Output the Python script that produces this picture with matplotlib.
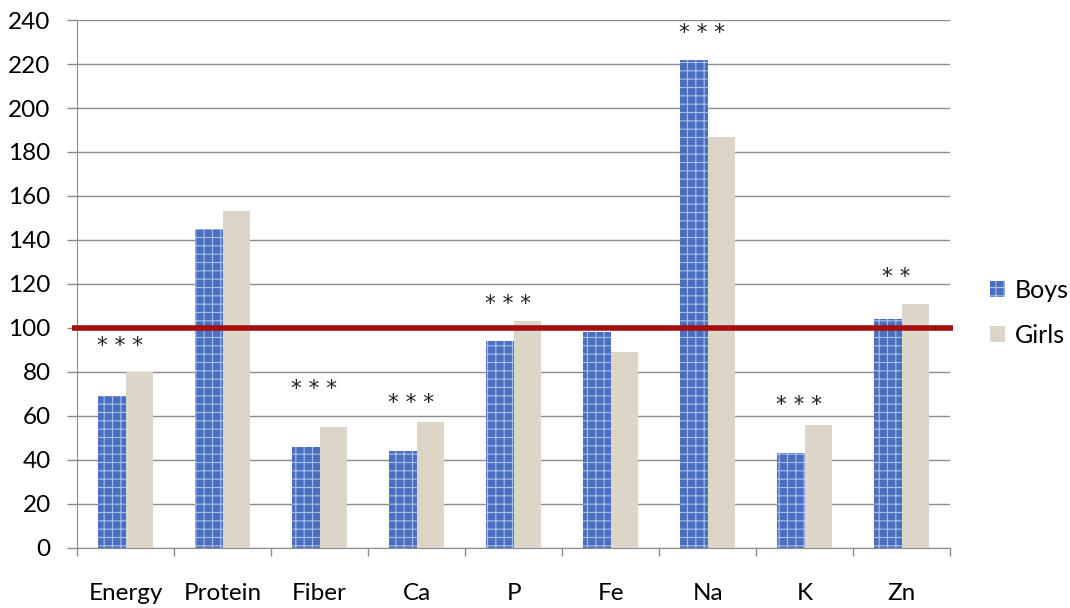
import numpy as np
import matplotlib.pyplot as plt

plt.rcParams['font.family'] = ['Lato', 'DejaVu Sans']
plt.rcParams['hatch.linewidth'] = 0.8

nutrients = ['Energy', 'Protein', 'Fiber', 'Ca', 'P', 'Fe', 'Na', 'K', 'Zn']
boys = [69, 145, 46, 44, 94, 98, 222, 43, 104]
girls = [80, 153, 55, 57, 103, 89, 187, 56, 111]
stars = ['* * *', '', '* * *', '* * *', '* * *', '', '* * *', '* * *', '* *']
star_y = [92, 0, 72, 66, 111, 0, 234, 65, 123]

fig = plt.figure(figsize=(10.70, 6.08), dpi=100)
ax = fig.add_axes([0.072, 0.099, 0.816, 0.868])

x = np.arange(len(nutrients))
w = 0.285
ax.bar(x - w/2, boys, w, color='#4a6fbe', edgecolor='#a9c0ec', hatch='++',
       linewidth=0, label='Boys', zorder=3)
ax.bar(x + w/2, girls, w, color='#ddd6c8', linewidth=0, label='Girls', zorder=3)

for i in range(len(nutrients)):
    if stars[i]:
        ax.text(x[i] - 0.06, star_y[i], stars[i], ha='center', va='center',
                fontsize=15.5, color='#222222', family='DejaVu Sans', zorder=4)

# reference line at 100%
ax.plot([-0.55, 8.53], [100, 100], color='#a50f0f', lw=4, zorder=5,
        clip_on=False, solid_capstyle='butt')

ax.set_xlim(-0.5, 8.5)
ax.set_ylim(0, 240)
ax.set_yticks(np.arange(0, 241, 20))
ax.yaxis.grid(True, color='#8c8c8c', lw=1, zorder=0)

ax.set_xticks(np.arange(-0.5, 9, 1), minor=False)
ax.set_xticklabels([])
ax.set_xticks(x, minor=True)
ax.set_xticklabels(nutrients, minor=True, fontsize=17.5)
ax.tick_params(axis='x', which='major', length=6, color='#8c8c8c', width=1)
ax.tick_params(axis='x', which='minor', length=0, pad=25)
ax.tick_params(axis='y', length=7, color='#8c8c8c', width=1, labelsize=17.5, pad=12)

for s in ['top', 'right']:
    ax.spines[s].set_visible(False)
for s in ['left', 'bottom']:
    ax.spines[s].set_color('#8c8c8c')

ax.legend(loc='center left', bbox_to_anchor=(1.02, 0.445), frameon=False,
          fontsize=18, handlelength=0.6, handleheight=0.6, handletextpad=0.4,
          labelspacing=0.9)

fig.savefig('out.png', dpi=100)
